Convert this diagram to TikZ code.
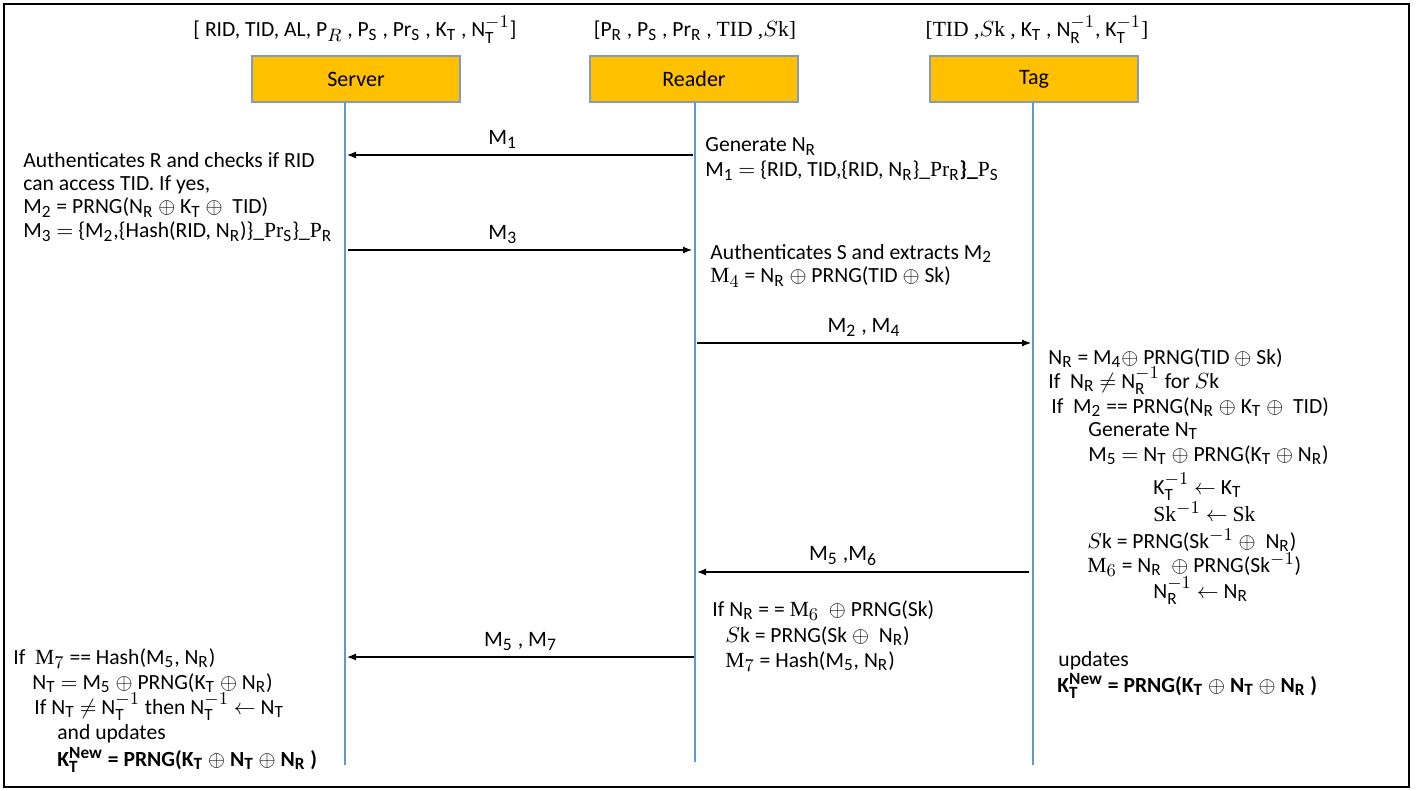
\documentclass[tikz,border=0pt]{standalone}
\usepackage{fontspec}
\setmainfont{Carlito}
\newfontfamily\serifpart{Liberation Serif}
\usetikzlibrary{arrows.meta,positioning}
\DeclareMathSizes{10.8}{10.8}{8.6}{7}
\DeclareMathSizes{11}{11}{8.8}{7}
\definecolor{boxfill}{HTML}{FFC000}
\definecolor{boxline}{HTML}{7F9DC0}
\definecolor{lifeblue}{HTML}{5B9BD5}
\tikzset{>={Latex[length=4.5pt,width=3.5pt]}}
\tikzset{entity/.style={draw=boxline, fill=boxfill, line width=0.6pt, minimum width=104pt, minimum height=23pt, inner sep=0pt, font=\fontsize{11}{13}\selectfont}}
\tikzset{lifeline/.style={draw=lifeblue, line width=0.6pt}}
\tikzset{msg/.style={->, line width=0.6pt}}
\tikzset{txt/.style={anchor=base west, inner sep=0pt, font=\fontsize{10.8}{12}\selectfont}}
\tikzset{hdr/.style={anchor=base, inner sep=0pt, font=\fontsize{10.8}{12}\selectfont}}
\tikzset{lbl/.style={above=3pt, inner sep=0pt, font=\fontsize{11}{12}\selectfont}}
\newcommand{\ix}[2]{#1$_{\mathrm{#2}}$}
\newcommand{\xo}{\ $\oplus$\ }

\begin{document}
\begin{tikzpicture}[x=0.5pt,y=-0.5pt]
  \useasboundingbox (0,0) rectangle (1418,791);
  \draw[line width=0.8pt] (4,4) rectangle (1409,787);

  % parties
  \node[entity] (server) at (356,79) {Server};
  \node[entity] (reader) at (694,79) {Reader};
  \node[entity] (tag) at (1034,79) {Tag};

  \node[hdr] (hs) at (355,37) {[ RID, TID, AL, P$_{R}$ , \ix{P}{S} , \ix{Pr}{S} , \ix{K}{T} , N$_{\mathrm{T}}^{-1}$]};
  \node[hdr] (hr) at (695,37) {[\ix{P}{R} , \ix{P}{S} , \ix{Pr}{R} , {\serifpart TID ,$S$k]}};
  \node[hdr] (ht) at (1037,37) {{\serifpart [TID ,$S$k ,} \ix{K}{T} , N$_{\mathrm{R}}^{-1}$, K$_{\mathrm{T}}^{-1}${\serifpart ]}};

  % lifelines
  \coordinate (sTop) at (345,102);
  \coordinate (sBot) at (345,765);
  \coordinate (rTop) at (695,102);
  \coordinate (rBot) at (695,762);
  \coordinate (tTop) at (1033,102);
  \coordinate (tBot) at (1033,765);
  \draw[lifeline] (sTop) -- (sBot);
  \draw[lifeline] (rTop) -- (rBot);
  \draw[lifeline] (tTop) -- (tBot);

  % messages
  \coordinate (s1) at (347,155);
  \coordinate (r1) at (693,155);
  \coordinate (s3) at (348,250);
  \coordinate (r3) at (692,250);
  \coordinate (r4) at (697,343);
  \coordinate (t4) at (1031,343);
  \coordinate (t6) at (1029,572);
  \coordinate (r6) at (697,572);
  \coordinate (r7) at (694,657);
  \coordinate (s7) at (347,657);
  \draw[msg] (r1) -- node[lbl,pos=0.55] (m1) {\ix{M}{1}} (s1);
  \draw[msg] (s3) -- node[lbl,pos=0.45] (m3) {\ix{M}{3}} (r3);
  \draw[msg] (r4) -- node[lbl] (m24) {\ix{M}{2} , \ix{M}{4}} (t4);
  \draw[msg] (t6) -- node[lbl,pos=0.56] (m56) {\ix{M}{5} ,\ix{M}{6}} (r6);
  \draw[msg] (r7) -- node[lbl] (m57) {\ix{M}{5} , \ix{M}{7}} (s7);

  % server, first part
  \node[txt] (a1) at (23,168) {Authenticates R and checks if RID};
  \node[txt] (a2) at (23,191) {can access TID. If yes,};
  \node[txt] (a3) at (23,214) {\ix{M}{2} = PRNG(\ix{N}{R}\xo\ix{K}{T}\xo\ TID)};
  \node[txt] (a4) at (23,238) {\ix{M}{3} $=$ \{\ix{M}{2},\{Hash(RID, \ix{N}{R})\}\_{\serifpart Pr}$_{\mathrm{S}}$\}\_{\serifpart P}$_{\mathrm{R}}$};

  % reader, first part
  \node[txt] (r1a) at (705,152) {Generate \ix{N}{R}};
  \node[txt] (r1b) at (705,177) {\ix{M}{1} $=$ \{RID, TID,\{RID, \ix{N}{R}\}\_{\serifpart Pr}$_{\mathrm{R}}$\textbf{\}\_}{\serifpart P}$_{\mathrm{S}}$};
  \node[txt] (r3a) at (710,259) {Authenticates S and extracts \ix{M}{2}};
  \node[txt] (r3b) at (710,283) {{\serifpart M}$_4$ = \ix{N}{R}\xo PRNG(TID\xo Sk)};

  % tag
  \node[txt] (t1) at (1048,364) {\ix{N}{R} = \ix{M}{4}$\oplus$ PRNG(TID\xo Sk)};
  \node[txt] (t2) at (1048,388) {If \ \ix{N}{R} $\neq$ N$_{\mathrm{R}}^{-1}$ for $S$k};
  \node[txt] (t3) at (1051,413) {If \ \ix{M}{2} == PRNG(\ix{N}{R}\xo\ix{K}{T}\xo\ TID)};
  \node[txt] (t4a) at (1088,436) {Generate \ix{N}{T}};
  \node[txt] (t5) at (1088,461) {\ix{M}{5} $=$ \ix{N}{T}\xo PRNG(\ix{K}{T}\xo\ix{N}{R})};
  \node[txt] (t6a) at (1153,494) {K$_{\mathrm{T}}^{-1}$ $\leftarrow$ \ix{K}{T}};
  \node[txt] (t7) at (1153,521) {{\serifpart Sk}$^{-1}$ $\leftarrow$ {\serifpart Sk}};
  \node[txt] (t8) at (1087,548) {$S$k = PRNG(Sk$^{-1}$\xo\ \ix{N}{R})};
  \node[txt] (t9) at (1087,572) {{\serifpart M}$_6$ = \ix{N}{R}\ \xo PRNG(Sk$^{-1}$)};
  \node[txt] (t10) at (1153,598) {N$_{\mathrm{R}}^{-1}$ $\leftarrow$ \ix{N}{R}};

  % reader, second part
  \node[txt] (r6a) at (712,616) {If \ix{N}{R} = = {\serifpart M}$_6$ \xo PRNG(Sk)};
  \node[txt] (r6b) at (725,642) {$S$k = PRNG(Sk\xo\ \ix{N}{R})};
  \node[txt] (r6c) at (725,667) {{\serifpart M}$_7$ = Hash(\ix{M}{5}, \ix{N}{R})};

  % server, second part
  \node[txt] (b1) at (13,664) {If \ {\serifpart M}$_7$ == Hash(\ix{M}{5}, \ix{N}{R})};
  \node[txt] (b2) at (32,689) {\ix{N}{T} $=$ \ix{M}{5}\xo PRNG(\ix{K}{T}\xo\ix{N}{R})};
  \node[txt] (b3) at (34,714) {If \ix{N}{T} $\neq$ N$_{\mathrm{T}}^{-1}$ then N$_{\mathrm{T}}^{-1}$ $\leftarrow$ \ix{N}{T}};
  \node[txt] (b4) at (57,739) {and updates};
  \node[txt] (b5) at (57,766) {\textbf{K$_{\mathbf{T}}^{\mathbf{New}}$ = PRNG(K$_{\mathbf{T}}$\xo N$_{\mathbf{T}}$\xo N$_{\mathbf{R}}$ )}};

  % tag, update
  \node[txt] (u1) at (1058,666) {updates};
  \node[txt] (u2) at (1057,692) {\textbf{K$_{\mathbf{T}}^{\mathbf{New}}$ = PRNG(K$_{\mathbf{T}}$\xo N$_{\mathbf{T}}$\xo N$_{\mathbf{R}}$ )}};
\end{tikzpicture}
\end{document}
